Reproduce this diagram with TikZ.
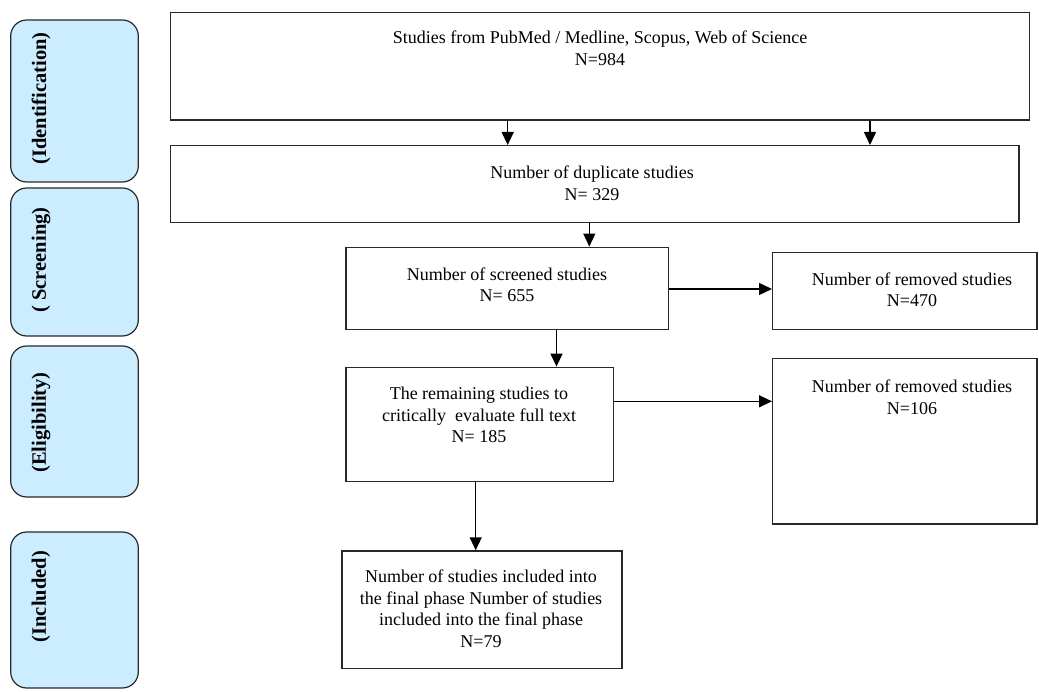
\documentclass[tikz,border=0pt]{standalone}
\usepackage{fontspec}
\setmainfont{Liberation Serif}
\usetikzlibrary{arrows.meta}
\definecolor{phasefill}{RGB}{204,236,255}
\definecolor{edgecol}{RGB}{40,40,40}
\begin{document}
\begin{tikzpicture}[x=1pt,y=-1pt,
  box/.style={draw=edgecol,line width=1.4pt,inner sep=0pt,minimum width=#1},
  phase/.style={draw=edgecol,fill=phasefill,rounded corners=16pt,line width=1.2pt,inner sep=0pt,minimum width=127.6pt},
  txt/.style={font=\fontsize{18}{21.5}\selectfont,align=center,inner sep=0pt},
  lab/.style={font=\fontsize{20.5}{24}\selectfont\bfseries,rotate=90,inner sep=0pt},
  arr/.style={-{Triangle[length=13pt,width=12pt]},draw=black,line width=1.4pt}]
\useasboundingbox (0,0) rectangle (1039,692);

% phase boxes
\node[phase,minimum height=162pt] (p1) at (74.5,101) {};
\node[phase,minimum height=148pt] (p2) at (74.5,262) {};
\node[phase,minimum height=151pt] (p3) at (74.5,421.5) {};
\node[phase,minimum height=156pt] (p4) at (74.5,610) {};
\node[lab] (l1) at (41,98.5) {(Identification)};
\node[lab] (l2) at (41,260) {( Screening)};
\node[lab] (l3) at (41,422.5) {(Eligibility)};
\node[lab] (l4) at (41,596.7) {(Included)};

% flow boxes
\node[box=858.6pt,minimum height=107.7pt] (top) at (600,66.15) {};
\node[box=848.3pt,minimum height=77pt] (dup) at (594.85,184.2) {};
\node[box=322.3pt,minimum height=82pt] (scr) at (507.15,288.3) {};
\node[box=264.3pt,minimum height=77pt] (rem1) at (904.85,290.8) {};
\node[box=267.3pt,minimum height=114.4pt] (rema) at (479.65,424.5) {};
\node[box=264.3pt,minimum height=165.7pt] (rem2) at (904.85,441.15) {};
\node[box=280pt,minimum height=117.3pt] (fin) at (482,609.65) {};

% texts
\node[txt] (ttop) at (600,48.5) {Studies from PubMed / Medline, Scopus, Web of Science\\N=984};
\node[txt] (tdup) at (592,183.3) {Number of duplicate studies\\N= 329};
\node[txt] (tscr) at (507,285) {Number of screened studies\\N= 655};
\node[txt] (trem1) at (912,290) {Number of removed studies\\N=470};
\node[txt] (trem2) at (912,397.5) {Number of removed studies\\N=106};
\node[txt] (trema) at (479,415) {The remaining studies to\\critically\ \ evaluate full text\\N= 185};
\node[txt] (tfin) at (481,608.5) {Number of studies included into\\the final phase Number of studies\\included into the final phase\\N=79};

% connectors
\draw[arr] (top.south -| 507.7,0) -- (dup.north -| 507.7,0);
\draw[arr] (top.south -| 870,0) -- (dup.north -| 870,0);
\draw[arr] (dup.south -| 589.3,0) -- (scr.north -| 589.3,0);
\draw[arr] (scr.east |- 0,289) -- (rem1.west |- 0,289);
\draw[arr] (scr.south -| 556.5,0) -- (rema.north -| 556.5,0);
\draw[arr] (rema.east |- 0,401.3) -- (rem2.west |- 0,401.3);
\draw[arr] (rema.south -| 475.7,0) -- (fin.north -| 475.7,0);
\end{tikzpicture}
\end{document}
